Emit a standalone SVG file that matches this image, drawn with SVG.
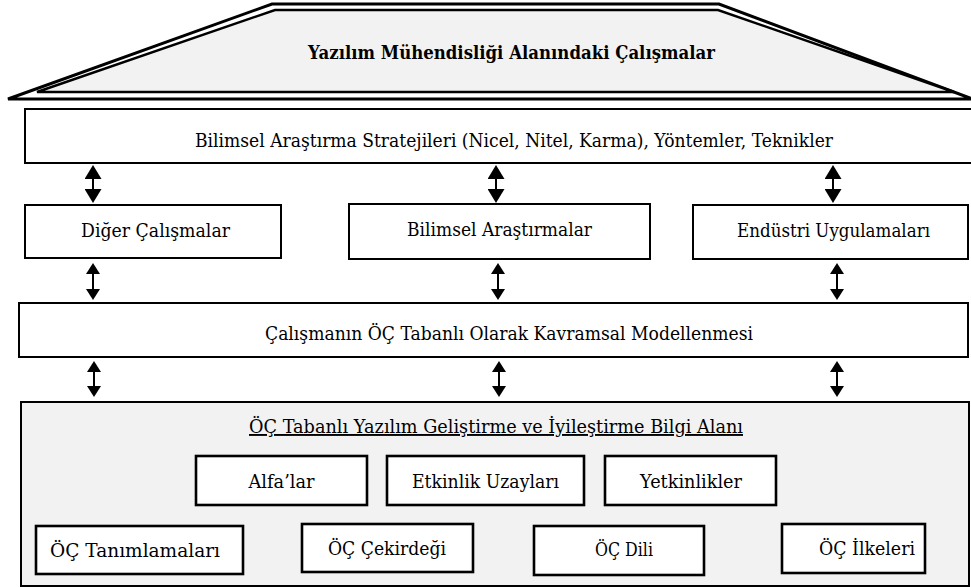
<svg xmlns="http://www.w3.org/2000/svg" width="971" height="587" viewBox="0 0 971 587">
<style>
.t{font-family:"DejaVu Serif","Liberation Serif","Times New Roman",serif;font-size:19px;fill:#000;text-anchor:middle}
.b{font-weight:bold}
.box{fill:#fff;stroke:#000;stroke-width:2}
.ibox{fill:#fff;stroke:#000;stroke-width:2.6}
.ar{stroke:#000;stroke-width:2;fill:none}
</style>
<defs>
<marker id="hb" markerUnits="userSpaceOnUse" markerWidth="14" markerHeight="17" refX="0" refY="8.5" orient="auto-start-reverse" viewBox="0 0 14 17"><path d="M0,0 L14,8.5 L0,17 Z" fill="#000"/></marker>
<marker id="hs" markerUnits="userSpaceOnUse" markerWidth="11" markerHeight="14" refX="0" refY="7" orient="auto-start-reverse" viewBox="0 0 11 14"><path d="M0,0 L11,7 L0,14 Z" fill="#000"/></marker>
</defs>
<g id="roof">
<polygon points="8,99 272,4 719,4 970,98 970,99" fill="#fff" stroke="#000" stroke-width="3"/>
<polygon points="37,92 275,10 718,10 954,92" fill="#f2f2f2" stroke="#000" stroke-width="2.4"/>
<text class="t b" x="511.5" y="59" textLength="407" lengthAdjust="spacingAndGlyphs">Yazılım Mühendisliği Alanındaki Çalışmalar</text>
</g>
<g id="strategies">
<rect class="box" x="25" y="109" width="960" height="54"/>
<text class="t" x="514" y="147" textLength="638" lengthAdjust="spacingAndGlyphs">Bilimsel Araştırma Stratejileri (Nicel, Nitel, Karma), Yöntemler, Teknikler</text>
</g>
<g id="diger">
<rect class="box" x="25" y="205" width="256" height="53"/>
<text class="t" x="155.5" y="237" textLength="149" lengthAdjust="spacingAndGlyphs">Diğer Çalışmalar</text>
</g>
<g id="bilimsel">
<rect class="box" x="349" y="204" width="301" height="55"/>
<text class="t" x="499.5" y="236" textLength="185" lengthAdjust="spacingAndGlyphs">Bilimsel Araştırmalar</text>
</g>
<g id="endustri">
<rect class="box" x="693" y="205" width="275" height="54"/>
<text class="t" x="833.5" y="237" textLength="193" lengthAdjust="spacingAndGlyphs">Endüstri Uygulamaları</text>
</g>
<g id="modelleme">
<rect class="box" x="19" y="303" width="949" height="54"/>
<text class="t" x="509" y="340" textLength="488" lengthAdjust="spacingAndGlyphs">Çalışmanın ÖÇ Tabanlı Olarak Kavramsal Modellenmesi</text>
</g>
<g id="bilgi-alani">
<rect x="21" y="402" width="948" height="184" fill="#f2f2f2" stroke="#000" stroke-width="2"/>
<text class="t" x="496" y="433" text-decoration="underline" textLength="494" lengthAdjust="spacingAndGlyphs">ÖÇ Tabanlı Yazılım Geliştirme ve İyileştirme Bilgi Alanı</text>
</g>
<g id="alfalar">
<rect class="ibox" x="196" y="456" width="171" height="49"/>
<text class="t" x="281.5" y="488" textLength="66" lengthAdjust="spacingAndGlyphs">Alfa’lar</text>
</g>
<g id="etkinlik">
<rect class="ibox" x="387" y="456" width="197" height="49"/>
<text class="t" x="485.5" y="488" textLength="147" lengthAdjust="spacingAndGlyphs">Etkinlik Uzayları</text>
</g>
<g id="yetkinlikler">
<rect class="ibox" x="605" y="456" width="171" height="49"/>
<text class="t" x="691" y="488" textLength="102" lengthAdjust="spacingAndGlyphs">Yetkinlikler</text>
</g>
<g id="tanimlamalari">
<rect class="ibox" x="36" y="526" width="207" height="48"/>
<text class="t" x="135" y="557" textLength="170" lengthAdjust="spacingAndGlyphs">ÖÇ Tanımlamaları</text>
</g>
<g id="cekirdegi">
<rect class="ibox" x="302" y="524" width="171" height="48"/>
<text class="t" x="387" y="555" textLength="118" lengthAdjust="spacingAndGlyphs">ÖÇ Çekirdeği</text>
</g>
<g id="dili">
<rect class="ibox" x="534" y="526" width="170" height="49"/>
<text class="t" x="624" y="556" textLength="58" lengthAdjust="spacingAndGlyphs">ÖÇ Dili</text>
</g>
<g id="ilkeleri">
<rect class="ibox" x="782" y="524" width="143" height="49"/>
<text class="t" x="867" y="555" textLength="96" lengthAdjust="spacingAndGlyphs">ÖÇ İlkeleri</text>
</g>
<g id="connectors">
<line class="ar" x1="93" y1="179" x2="93" y2="189" marker-start="url(#hb)" marker-end="url(#hb)"/>
<line class="ar" x1="496" y1="179" x2="496" y2="189" marker-start="url(#hb)" marker-end="url(#hb)"/>
<line class="ar" x1="833" y1="179" x2="833" y2="189" marker-start="url(#hb)" marker-end="url(#hb)"/>
<line class="ar" x1="93" y1="274" x2="93" y2="289" marker-start="url(#hs)" marker-end="url(#hs)"/>
<line class="ar" x1="498" y1="274" x2="498" y2="289" marker-start="url(#hs)" marker-end="url(#hs)"/>
<line class="ar" x1="837" y1="274" x2="837" y2="289" marker-start="url(#hs)" marker-end="url(#hs)"/>
<line class="ar" x1="94" y1="372" x2="94" y2="386" marker-start="url(#hs)" marker-end="url(#hs)"/>
<line class="ar" x1="499" y1="372" x2="499" y2="386" marker-start="url(#hs)" marker-end="url(#hs)"/>
<line class="ar" x1="837" y1="372" x2="837" y2="386" marker-start="url(#hs)" marker-end="url(#hs)"/>
</g>
</svg>
